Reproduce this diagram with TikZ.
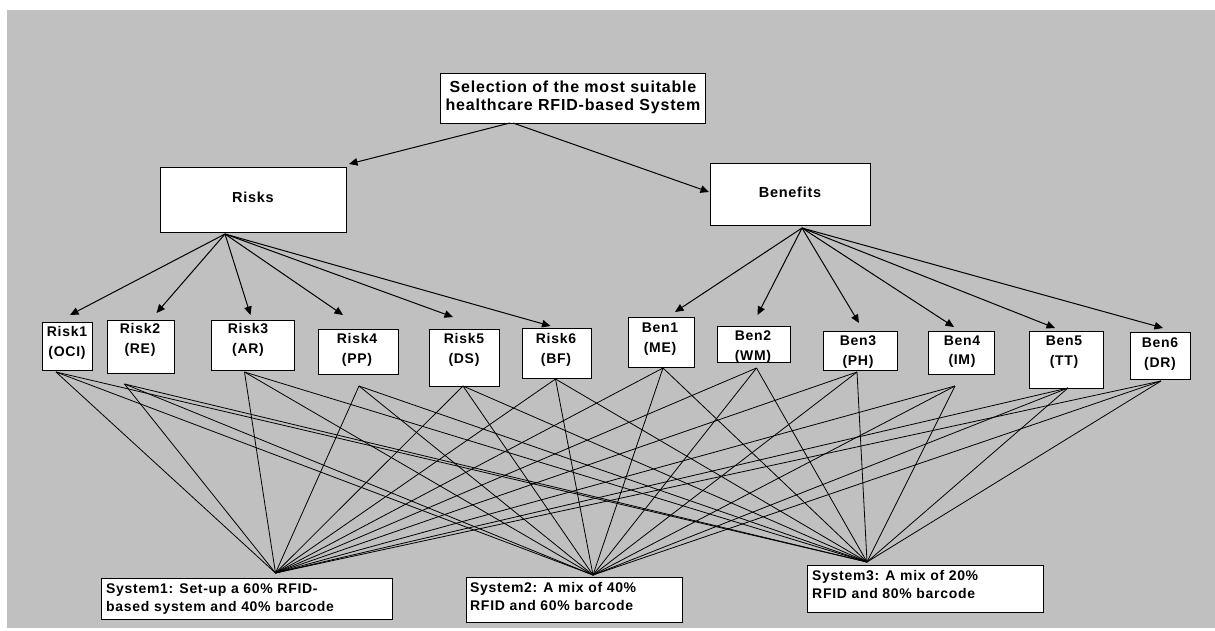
\documentclass[tikz,border=0pt]{standalone}
\usepackage{fontspec}
\setmainfont{Liberation Sans}
\newfontfamily\lblfont{Liberation Sans}[LetterSpace=5]
\newfontfamily\topfont{Liberation Sans}[LetterSpace=5]
\usetikzlibrary{arrows.meta,calc}
\definecolor{bg}{HTML}{C0C0C0}
\newcommand\ctwo[3]{\vtop{\baselineskip=#1pt\halign{\hfil##\hfil\cr#2\cr#3\cr}}}
\newcommand\ltwo[3]{\vtop{\baselineskip=#1pt\halign{##\hfil\cr#2\cr#3\cr}}}
\begin{document}
\begin{tikzpicture}[x=1pt,y=-1pt,
  box/.style={draw=black, line width=0.9pt, fill=white, inner sep=0pt, outer sep=0pt, anchor=north west},
  lbl/.style={inner sep=0pt, anchor=base, font=\lblfont\bfseries\fontsize{14}{20}\selectfont},
  toplbl/.style={inner sep=0pt, anchor=base, font=\topfont\bfseries\fontsize{16}{18}\selectfont},
  biglbl/.style={inner sep=0pt, anchor=base, font=\lblfont\bfseries\fontsize{14.5}{18}\selectfont},
  arr/.style={line width=1pt, -{Triangle[length=8.5pt,width=7.5pt]}},
  link/.style={line width=0.8pt}]
\useasboundingbox (0,0) rectangle (1215,630);
\fill[white] (0,0) rectangle (1215,630);
\fill[bg] (7,10) rectangle (1215,628);

% boxes
\node[box, minimum width=265pt, minimum height=50pt] (top) at (440,73) {};
\node[box, minimum width=186pt, minimum height=65pt] (risks) at (160,167) {};
\node[box, minimum width=160pt, minimum height=62pt] (bens) at (710,163) {};
\node[box, minimum width=50pt, minimum height=48pt] (r1) at (42,322) {};
\node[box, minimum width=67pt, minimum height=53pt] (r2) at (107,320) {};
\node[box, minimum width=83pt, minimum height=50pt] (r3) at (211,320) {};
\node[box, minimum width=80pt, minimum height=45pt] (r4) at (318,329) {};
\node[box, minimum width=70pt, minimum height=57pt] (r5) at (429,329) {};
\node[box, minimum width=69pt, minimum height=50pt] (r6) at (522,328) {};
\node[box, minimum width=66pt, minimum height=50pt] (b1) at (628,317) {};
\node[box, minimum width=73pt, minimum height=36pt] (b2) at (717,326) {};
\node[box, minimum width=74pt, minimum height=39pt] (b3) at (823,331) {};
\node[box, minimum width=66pt, minimum height=43pt] (b4) at (928,331) {};
\node[box, minimum width=74pt, minimum height=57pt] (b5) at (1029,331) {};
\node[box, minimum width=60pt, minimum height=47pt] (b6) at (1130,332) {};
\node[box, minimum width=291pt, minimum height=41pt] (s1) at (101,578) {};
\node[box, minimum width=216pt, minimum height=45pt] (s2) at (466,577) {};
\node[box, minimum width=236pt, minimum height=47pt] (s3) at (807,565) {};

% labels
\node[toplbl] (ttop) at (573,92) {\ctwo{18}{Selection of the most suitable}{healthcare RFID-based System}};
\node[biglbl] (trisks) at (253,202) {Risks};
\node[biglbl] (tbens) at (790,197) {Benefits};
\node[lbl] (tr1) at (67,336) {\ctwo{20}{Risk1}{(OCI)}};
\node[lbl] (tr2) at (140,333) {\ctwo{20}{Risk2}{(RE)}};
\node[lbl] (tr3) at (248,333) {\ctwo{20}{Risk3}{(AR)}};
\node[lbl] (tr4) at (357,343) {\ctwo{20}{Risk4}{(PP)}};
\node[lbl] (tr5) at (464,343) {\ctwo{20}{Risk5}{(DS)}};
\node[lbl] (tr6) at (556,343) {\ctwo{20}{Risk6}{(BF)}};
\node[lbl] (tb1) at (660,332) {\ctwo{20}{Ben1}{(ME)}};
\node[lbl] (tb2) at (753,340) {\ctwo{20}{Ben2}{(WM)}};
\node[lbl] (tb3) at (858,345) {\ctwo{20}{Ben3}{(PH)}};
\node[lbl] (tb4) at (962,345) {\ctwo{19}{Ben4}{(IM)}};
\node[lbl] (tb5) at (1064,345) {\ctwo{20}{Ben5}{(TT)}};
\node[lbl] (tb6) at (1160,347) {\ctwo{20}{Ben6}{(DR)}};
\node[lbl, anchor=base west] (ts1) at (106,593) {\ltwo{18}{System1: Set-up a 60\% RFID-}{based system and 40\% barcode}};
\node[lbl, anchor=base west] (ts2) at (470,592) {\ltwo{18}{System2: A mix of 40\%}{RFID and 60\% barcode}};
\node[lbl, anchor=base west] (ts3) at (812,580) {\ltwo{18}{System3: A mix of 20\%}{RFID and 80\% barcode}};

% fan points
\coordinate (rf) at ($(risks.south west)+(65,2)$);
\coordinate (bf) at ($(bens.south west)+(92,3)$);
\coordinate (s1i) at ($(s1.north)+(29,-5)$);
\coordinate (s2i) at ($(s2.north)+(19,-2)$);
\coordinate (s3i) at ($(s3.north)+(-58,-3)$);

% top arrows
\draw[arr] ($(top.south west)+(70,0)$) -- ($(risks.north east)+(3,-3)$);
\draw[arr] ($(top.south west)+(73,0)$) -- ($(bens.west)+(-1,-2)$);

% fan arrows
\foreach \n/\dx/\dy in {r1/3/-7, r2/16/-7, r3/-2/-5, r4/-15/-14, r5/-11/-12, r6/-6/-2}
  \draw[arr] (rf) -- ($(\n.north)+(\dx,\dy)$);
\foreach \n/\dx/\dy in {b1/14/-5, b2/4/-11, b3/-1/-8, b4/-7/-4, b5/-11/-3, b6/3/-4}
  \draw[arr] (bf) -- ($(\n.north)+(\dx,\dy)$);

% outgoing points
\foreach \n/\dx/\dy in {r1/-11/2, r2/-16/11, r3/-8/2, r4/1/12, r5/-1/0, r6/-1/1, b1/2/1, b2/3/6, b3/-3/2, b4/-6/12, b5/2/0, b6/1/2}
  \coordinate (\n-out) at ($(\n.south)+(\dx,\dy)$);

\foreach \n in {r1,r2,r3,r4,r5,r6,b1,b2,b3,b4,b5,b6}
  \foreach \s in {s1i,s2i,s3i}
    \draw[link] (\n-out) -- (\s);
\end{tikzpicture}
\end{document}
